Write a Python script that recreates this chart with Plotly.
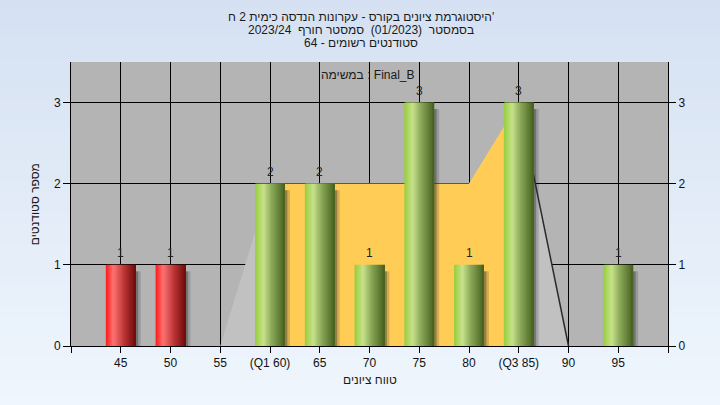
import plotly.graph_objects as go

# ---- data ----
grades = [45, 50, 55, 60, 65, 70, 75, 80, 85, 90, 95]
counts = [1, 1, 0, 2, 2, 1, 3, 1, 3, 0, 1]
tick_labels = ["45", "50", "55", "(Q1 60)", "65", "70", "75", "80", "(Q3 85)", "90", "95"]
bar_kind = ["fail", "fail", "fail", "pass", "pass", "pass", "pass", "pass", "pass", "pass", "pass"]
area_x = [55, 60, 65, 70, 75, 80, 85, 90]
area_y = [0, 2, 2, 2, 2, 2, 3, 0]
q1, q3 = 60, 85

title_lines = [
    "היסטוגרמת ציונים בקורס - עקרונות הנדסה כימית 2 ח'",
    "בסמסטר  (01/2023)  סמסטר חורף  2023/24",
    "סטודנטים רשומים - 64",
]
legend_text = "במשימה : Final_B"
x_title = "טווח ציונים"
y_title = "מספר סטודנטים"

FONT = "Liberation Sans, DejaVu Sans, Arial, sans-serif"

# ---- colour helpers ----
stops = {
    "pass": [(0.0, (150, 205, 60)), (0.28, (200, 226, 140)), (0.55, (140, 170, 90)), (1.0, (70, 96, 30))],
    "fail": [(0.0, (255, 25, 25)), (0.25, (255, 115, 115)), (0.6, (190, 55, 55)), (1.0, (112, 10, 10))],
}


def shade(kind, t):
    st = stops[kind]
    for (t0, c0), (t1, c1) in zip(st[:-1], st[1:]):
        if t0 <= t <= t1:
            f = (t - t0) / (t1 - t0)
            c = [round(a + (b - a) * f) for a, b in zip(c0, c1)]
            return "rgb(%d,%d,%d)" % tuple(c)
    return "rgb(%d,%d,%d)" % st[-1][1]


fig = go.Figure()

# ---- background area (on main y) ----
fig.add_trace(go.Scatter(x=area_x, y=area_y, mode="lines", fill="tozeroy",
                         fillcolor="#c1c1c1", line=dict(width=0),
                         hoverinfo="skip", showlegend=False))
ox = [x for x in area_x if q1 <= x <= q3]
oy = [y for x, y in zip(area_x, area_y) if q1 <= x <= q3]
fig.add_trace(go.Scatter(x=ox, y=oy, mode="lines", fill="tozeroy",
                         fillcolor="#ffcc55", line=dict(width=0),
                         hoverinfo="skip", showlegend=False))
rx = [x for x in area_x if x >= q3]
ry = [y for x, y in zip(area_x, area_y) if x >= q3]
fig.add_trace(go.Scatter(x=rx, y=ry, mode="lines", line=dict(color="#2a2a2a", width=1.5),
                         hoverinfo="skip", showlegend=False))

# ---- bars (on overlaying y2 so they sit above the area) ----
bw = 3.0
shadow_y = [max(c - 0.08, 0) for c in counts]
fig.add_trace(go.Bar(x=grades, y=shadow_y, width=0.3, offset=bw / 2 - 0.05,
                     marker=dict(color="rgba(45,45,45,0.5)", line=dict(width=0)),
                     yaxis="y2", hoverinfo="skip", showlegend=False))
fig.add_trace(go.Bar(x=grades, y=shadow_y, width=0.25, offset=bw / 2 + 0.25,
                     marker=dict(color="rgba(45,45,45,0.2)", line=dict(width=0)),
                     yaxis="y2", hoverinfo="skip", showlegend=False))
N = 24
sw = bw / N
for i in range(N):
    t = (i + 0.5) / N
    w = sw * 2 if i < N - 1 else sw
    fig.add_trace(go.Bar(x=grades, y=counts, width=w, offset=-bw / 2 + i * sw,
                         marker=dict(color=[shade(k, t) for k in bar_kind], line=dict(width=0)),
                         yaxis="y2", hoverinfo="skip", showlegend=False))

# ---- annotations ----
ann = []
for g, c in zip(grades, counts):
    if c > 0:
        ann.append(dict(text=str(c), x=g, y=c, xref="x", yref="y2", yshift=12,
                        xanchor="center", yanchor="middle", showarrow=False,
                        font=dict(family=FONT, size=12, color="#222222")))

# ---- background gradient ----
shapes = []
n_strips = 40
top_c = (213, 225, 242)
bot_c = (239, 246, 253)
y_lo, y_hi = -0.22, 1.23
for i in range(n_strips):
    f = i / (n_strips - 1)
    c = tuple(round(b + (a - b) * f) for a, b in zip(top_c, bot_c))
    shapes.append(dict(type="rect", xref="paper", yref="paper",
                       x0=-0.2, x1=1.2,
                       y0=y_lo + (y_hi - y_lo) * i / n_strips,
                       y1=y_lo + (y_hi - y_lo) * (i + 1) / n_strips + 0.002,
                       fillcolor="rgb(%d,%d,%d)" % c, line=dict(width=0), layer="below"))
shapes.append(dict(type="rect", xref="x domain", yref="y domain", x0=0, x1=1, y0=0, y1=1,
                   fillcolor="#b4b4b4", line=dict(width=0), layer="below"))

for txt, yp in zip(title_lines, [1.158, 1.113, 1.067]):
    ann.append(dict(text=txt, xref="paper", yref="paper", x=0.485, y=yp,
                    xanchor="center", yanchor="middle", showarrow=False,
                    font=dict(family=FONT, size=12, color="#1a1a1a")))
ann.append(dict(text=legend_text, xref="paper", yref="paper", x=0.4975, y=0.954,
                xanchor="center", yanchor="middle", showarrow=False,
                font=dict(family=FONT, size=12, color="#1a1a1a")))
ann.append(dict(text=x_title, xref="paper", yref="paper", x=0.5, y=-0.12,
                xanchor="center", yanchor="middle", showarrow=False,
                font=dict(family=FONT, size=12, color="#1a1a1a")))
ann.append(dict(text=y_title, xref="paper", yref="paper", x=-0.06, y=0.5,
                xanchor="center", yanchor="middle", showarrow=False, textangle=-90,
                font=dict(family=FONT, size=12, color="#1a1a1a")))

tick_font = dict(family=FONT, size=12, color="#111111")
fig.update_layout(
    width=720, height=405,
    margin=dict(l=71, r=52, t=62, b=59),
    paper_bgcolor="#e2ebf8", plot_bgcolor="#b4b4b4",
    barmode="overlay",
    shapes=shapes, annotations=ann,
    showlegend=False,
    xaxis=dict(range=[40, 100], tickvals=list(range(40, 101, 5)),
               ticktext=[""] + tick_labels + [""],
               ticks="outside", ticklen=6, tickcolor="black",
               showline=True, linecolor="black", linewidth=1,
               showgrid=True, gridcolor="black", gridwidth=1,
               zeroline=False, tickfont=tick_font, fixedrange=True),
    yaxis=dict(range=[0, 3.5], tickvals=[0, 1, 2, 3],
               ticks="outside", ticklen=7, tickcolor="black",
               showline=True, linecolor="black", linewidth=1,
               showgrid=True, gridcolor="black", gridwidth=1,
               zeroline=False, tickfont=tick_font, fixedrange=True),
    yaxis2=dict(range=[0, 3.5], tickvals=[0, 1, 2, 3], overlaying="y", side="right",
                ticks="outside", ticklen=7, tickcolor="black",
                showline=True, linecolor="black", linewidth=1,
                showgrid=False, zeroline=False, tickfont=tick_font, fixedrange=True),
)

fig.write_html("out.html", config={"displayModeBar": False},
               post_script="document.body.style.margin='0';document.body.style.overflow='hidden';")
